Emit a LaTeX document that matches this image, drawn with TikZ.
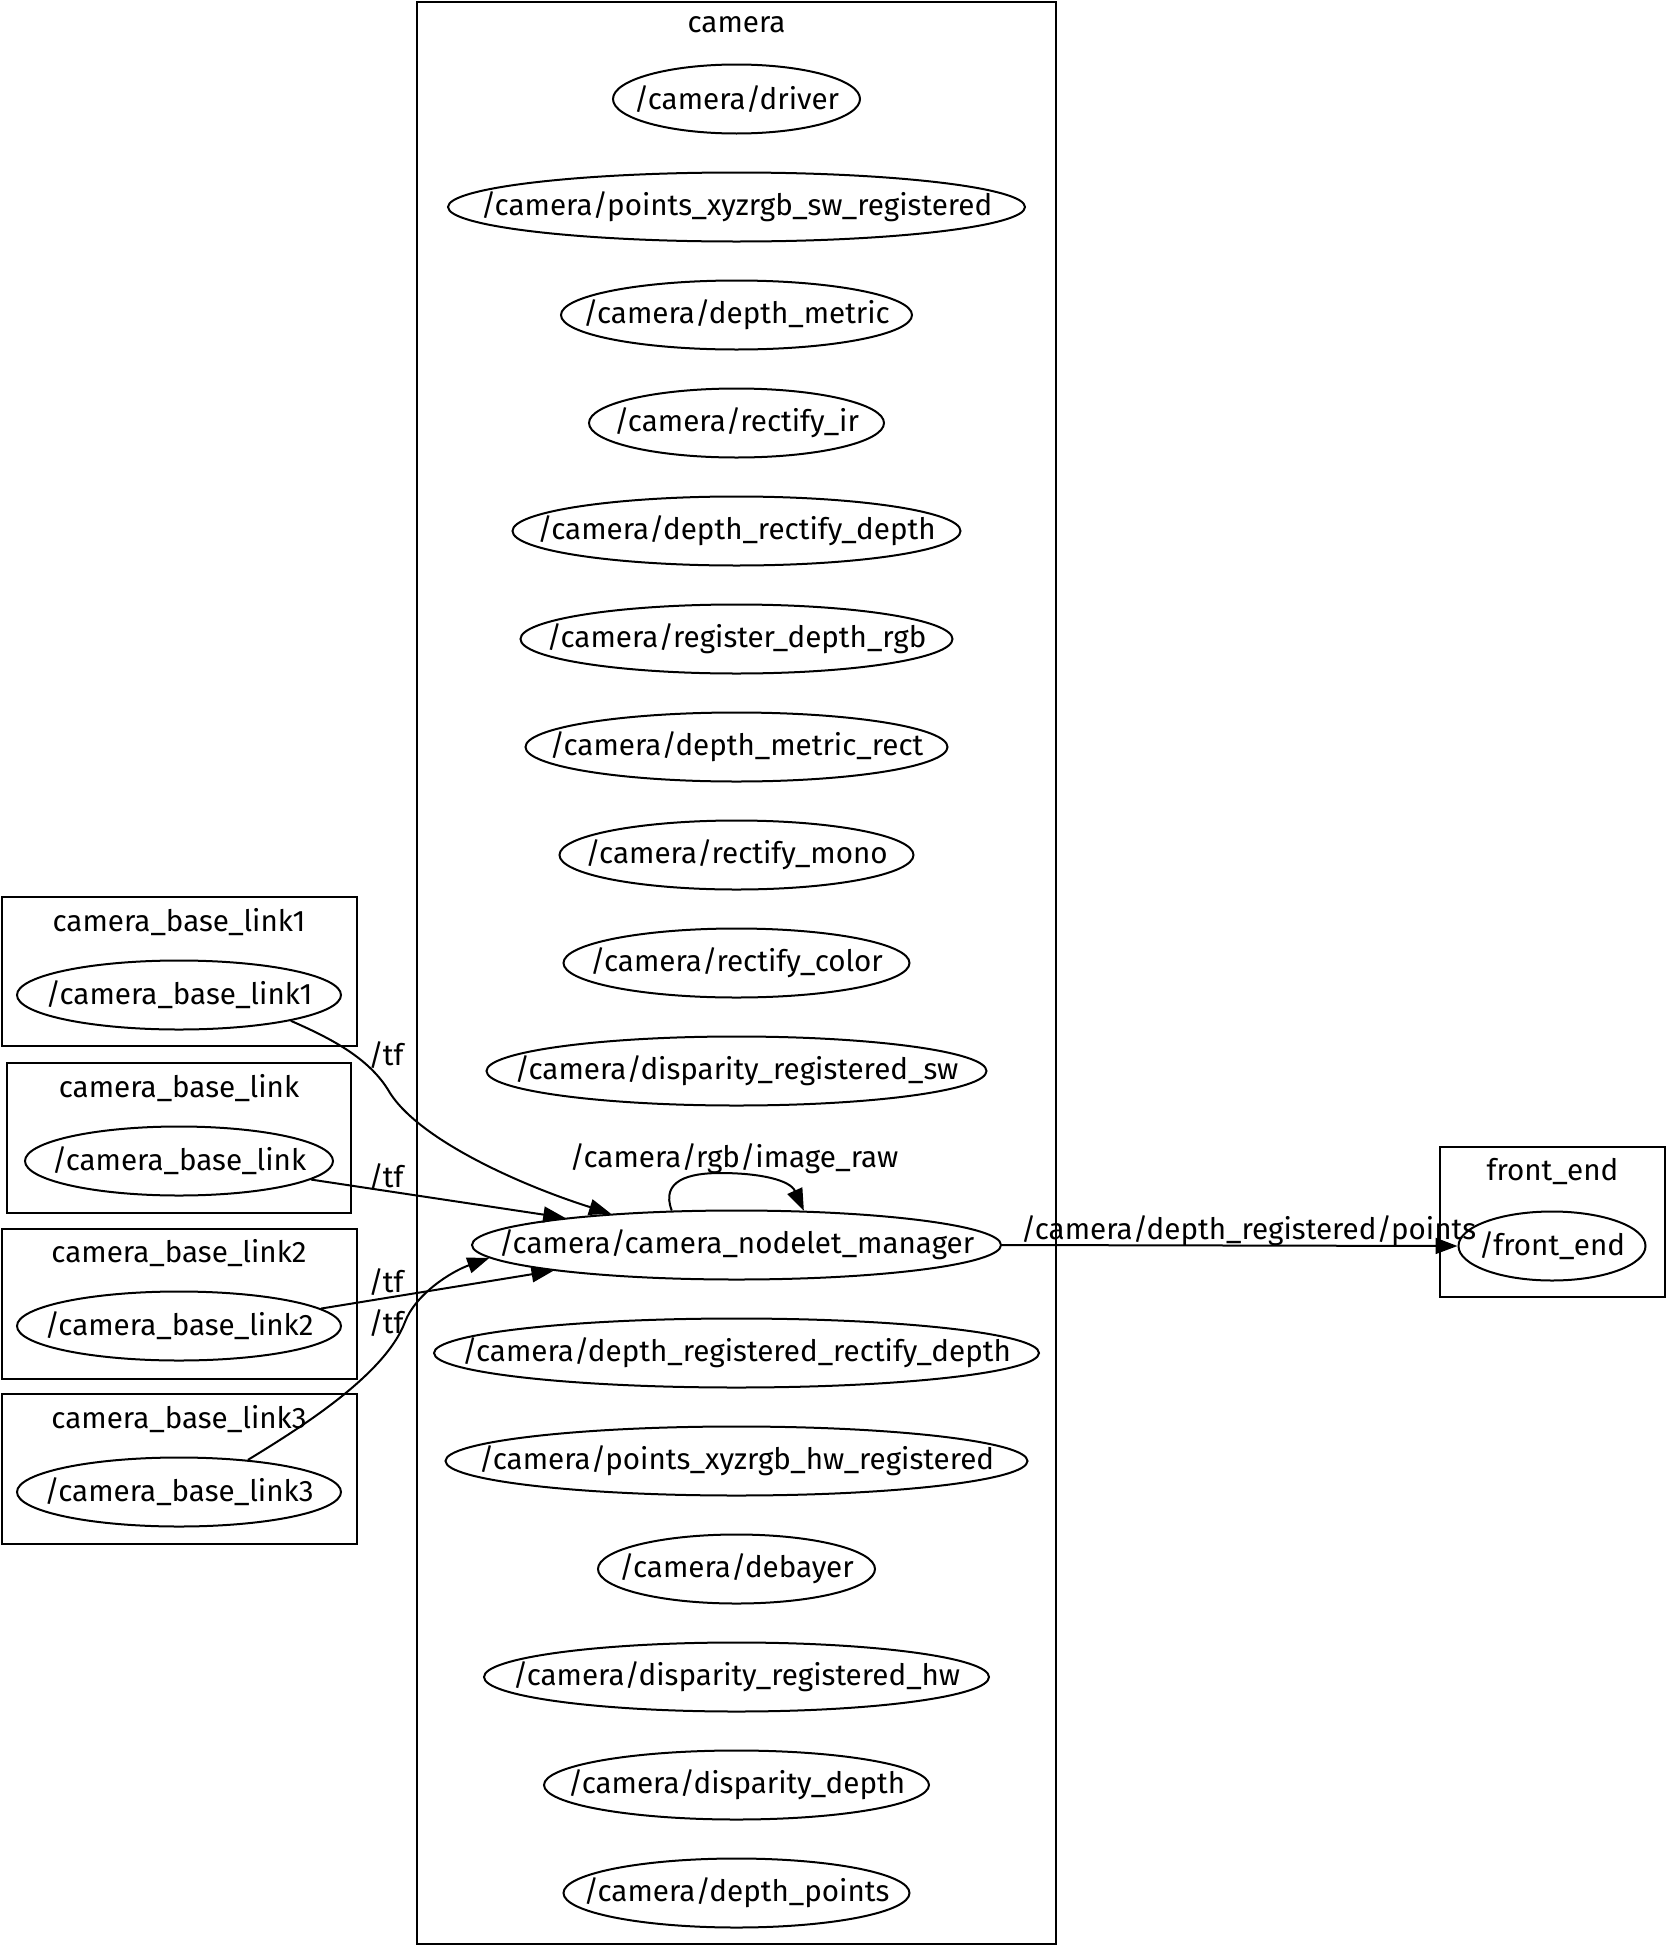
\documentclass[tikz,border=0pt]{standalone}
\usepackage{fontspec}
\setmainfont{Fira Sans}
\usetikzlibrary{shapes.geometric,arrows.meta}
\newcommand{\zw}[1]{\makebox[0pt]{#1}}
\begin{document}
\begin{tikzpicture}[x=1pt,y=-1pt,
  every node/.style={font=\fontsize{29.6}{34}\selectfont},
  nd/.style={ellipse,draw,line width=2pt,minimum height=69pt,inner sep=0pt},
  cl/.style={draw,line width=2pt,inner sep=0pt},
  lbl/.style={inner sep=0pt},
  conn/.style={line width=2pt,-{Triangle[length=22pt,width=16pt]}}]
\useasboundingbox (0,0) rectangle (1666,1946);
% clusters
\node[cl,minimum width=639pt,minimum height=1942pt] (camera) at (736.5,973) {};
\node[lbl] (cameratitle) at (736.5,25) {camera};
\node[cl,minimum width=355pt,minimum height=149pt] (c1) at (179,971.5) {};
\node[lbl] (c1t) at (179,922) {camera\_base\_link1};
\node[cl,minimum width=344pt,minimum height=150pt] (c0) at (179,1138) {};
\node[lbl] (c0t) at (179,1088) {camera\_base\_link};
\node[cl,minimum width=355pt,minimum height=150pt] (c2) at (179,1304) {};
\node[lbl] (c2t) at (179,1253) {camera\_base\_link2};
\node[cl,minimum width=355pt,minimum height=150pt] (c3) at (179,1469) {};
\node[lbl] (c3t) at (179,1419) {camera\_base\_link3};
\node[cl,minimum width=225pt,minimum height=150pt] (cf) at (1552.5,1222) {};
\node[lbl] (cft) at (1552.5,1171) {front\_end};
% camera nodes
\node[nd,minimum width=247pt] (driver) at (736.5,99) {\zw{/camera/driver}};
\node[nd,minimum width=577pt] (psw) at (736.5,207) {\zw{/camera/points\_xyzrgb\_sw\_registered}};
\node[nd,minimum width=351pt] (dm) at (736.5,315) {\zw{/camera/depth\_metric}};
\node[nd,minimum width=295pt] (rir) at (736.5,423) {\zw{/camera/rectify\_ir}};
\node[nd,minimum width=448pt] (drd) at (736.5,531) {\zw{/camera/depth\_rectify\_depth}};
\node[nd,minimum width=432pt] (rdr) at (736.5,639) {\zw{/camera/register\_depth\_rgb}};
\node[nd,minimum width=422pt] (dmr) at (736.5,747) {\zw{/camera/depth\_metric\_rect}};
\node[nd,minimum width=354pt] (rmono) at (736.5,855) {\zw{/camera/rectify\_mono}};
\node[nd,minimum width=346pt] (rcol) at (736.5,963) {\zw{/camera/rectify\_color}};
\node[nd,minimum width=500pt] (drsw) at (736.5,1071) {\zw{/camera/disparity\_registered\_sw}};
\node[nd,minimum width=529pt] (mgr) at (736.5,1245) {\zw{/camera/camera\_nodelet\_manager}};
\node[nd,minimum width=605pt] (drrd) at (736.5,1353) {\zw{/camera/depth\_registered\_rectify\_depth}};
\node[nd,minimum width=582pt] (phw) at (736.5,1461) {\zw{/camera/points\_xyzrgb\_hw\_registered}};
\node[nd,minimum width=277pt] (deb) at (736.5,1569) {\zw{/camera/debayer}};
\node[nd,minimum width=505pt] (drhw) at (736.5,1677) {\zw{/camera/disparity\_registered\_hw}};
\node[nd,minimum width=385pt] (dd) at (736.5,1785) {\zw{/camera/disparity\_depth}};
\node[nd,minimum width=346pt] (dp) at (736.5,1893) {\zw{/camera/depth\_points}};
% other nodes
\node[nd,minimum width=324pt] (l1) at (179,995) {\zw{/camera\_base\_link1}};
\node[nd,minimum width=308pt] (l0) at (179,1161) {\zw{/camera\_base\_link}};
\node[nd,minimum width=324pt] (l2) at (179,1326) {\zw{/camera\_base\_link2}};
\node[nd,minimum width=324pt] (l3) at (179,1492) {\zw{/camera\_base\_link3}};
\node[nd,minimum width=187pt] (fe) at (1552,1246) {\zw{/front\_end}};
% edges
\draw[conn] (l1.-13.4) .. controls (330,1038) and (370,1058) .. (390,1093)
  .. controls (420,1140) and (520,1185) .. (mgr.166.3);
\draw[conn] (l0.-8.4) -- (mgr.171);
\draw[conn] (l2.7.5) -- (mgr.188.2);
\draw[conn] (l3.25.9) .. controls (300,1428) and (385,1375) .. (405,1322)
  .. controls (415,1295) and (450,1272) .. (mgr.183.3);
\draw[conn] (mgr.152.4) .. controls (660,1180) and (690,1173) .. (720,1173)
  .. controls (760,1173) and (790,1180) .. (mgr.27.9);
\draw[conn] (mgr.east) -- (fe.west);
% labels
\node[lbl] (tf1) at (386,1055) {/tf};
\node[lbl] (tf0) at (386,1177) {/tf};
\node[lbl] (tf2) at (386,1282) {/tf};
\node[lbl] (tf3) at (386,1323) {/tf};
\node[lbl] (rgbl) at (734,1159) {/camera/rgb/image\_raw};
\node[lbl] (ptsl) at (1248.5,1231) {/camera/depth\_registered/points};
\end{tikzpicture}
\end{document}
